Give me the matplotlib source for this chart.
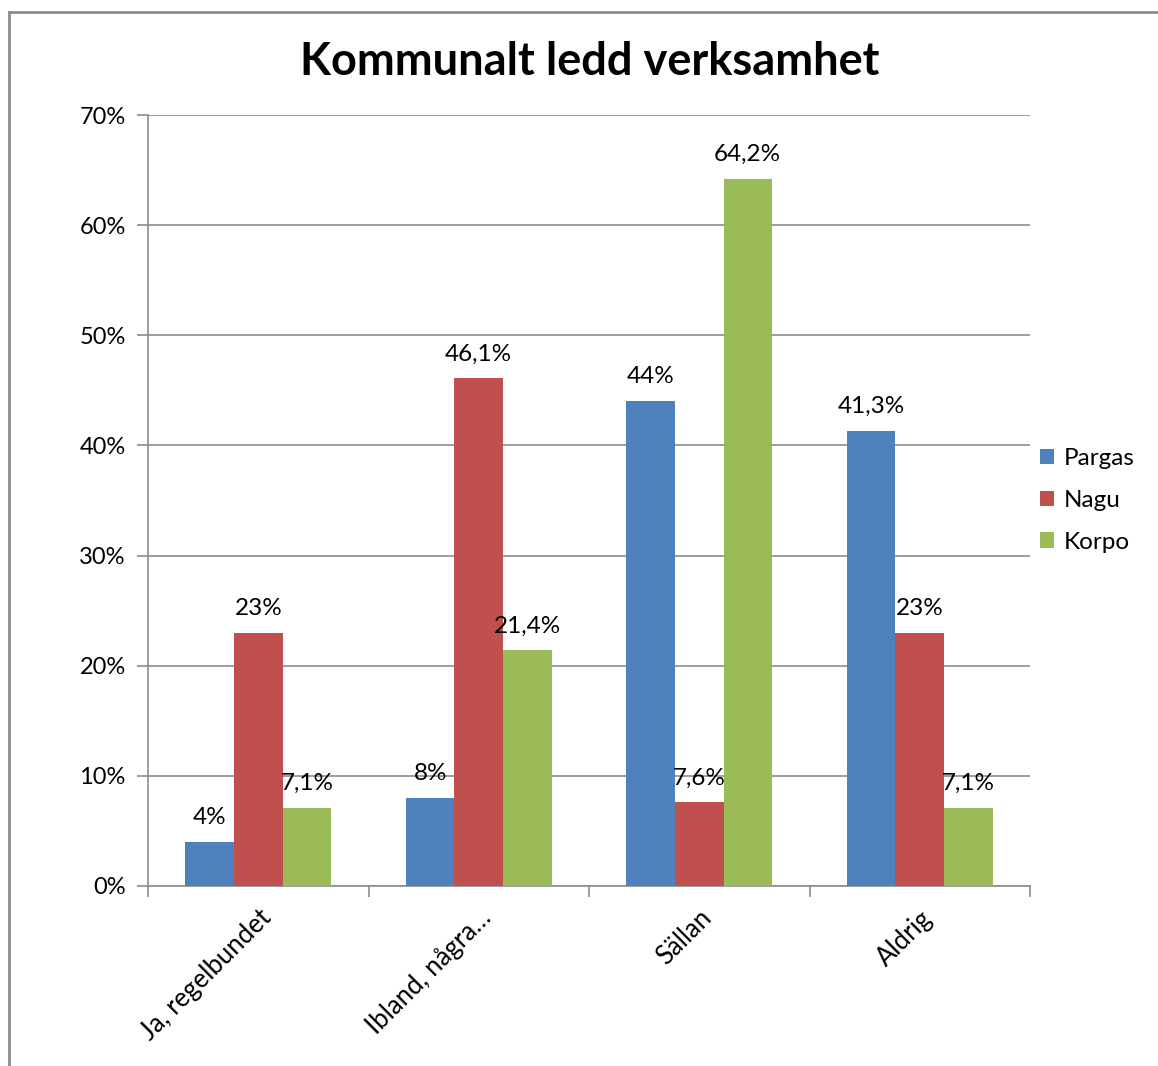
import numpy as np
import matplotlib.pyplot as plt
from matplotlib.lines import Line2D

categories = ['Ja, regelbundet', 'Ibland, några…', 'Sällan', 'Aldrig']
series = ['Pargas', 'Nagu', 'Korpo']
pargas = [4.0, 8.0, 44.0, 41.3]
nagu = [23.0, 46.1, 7.6, 23.0]
korpo = [7.1, 21.4, 64.2, 7.1]
labels_pargas = ['4%', '8%', '44%', '41,3%']
labels_nagu = ['23%', '46,1%', '7,6%', '23%']
labels_korpo = ['7,1%', '21,4%', '64,2%', '7,1%']
yticks = [0, 10, 20, 30, 40, 50, 60, 70]

colors = ['#4F81BD', '#C0504D', '#9BBB59']
plt.rcParams['font.family'] = ['Lato', 'DejaVu Sans']

fig = plt.figure(figsize=(11.58, 10.66), dpi=100)
ax = fig.add_axes([148/1158, 1 - 886/1066, (1030 - 148)/1158, (886 - 115)/1066])

# outer chart frame (top and left edges visible)
fig.add_artist(Line2D([8.5/1158, 8.5/1158], [0, 1 - 12/1066], color='#8c8c8c', lw=2, transform=fig.transFigure))
fig.add_artist(Line2D([8.5/1158, 1], [1 - 12/1066, 1 - 12/1066], color='#8c8c8c', lw=2, transform=fig.transFigure))

x = np.arange(len(categories))
w = 0.22
data = [pargas, nagu, korpo]
labs = [labels_pargas, labels_nagu, labels_korpo]
for i, (vals, name, c, lb) in enumerate(zip(data, series, colors, labs)):
    bars = ax.bar(x + (i - 1) * w, vals, width=w, color=c, label=name, zorder=3)
    for b, v, t in zip(bars, vals, lb):
        ax.annotate(t, (b.get_x() + b.get_width() / 2, v), xytext=(0, 10),
                    textcoords='offset points', ha='center', va='bottom', fontsize=17.5)

ax.set_xlim(-0.5, 3.5)
ax.set_ylim(0, 70)
ax.set_yticks(yticks)
ax.set_yticklabels([f'{t}%' for t in yticks], fontsize=17)
ax.yaxis.grid(True, color='#8c8c8c', lw=1.2, zorder=0)
ax.set_axisbelow(True)
ax.set_xticks(np.arange(-0.5, 4, 1))
ax.set_xticklabels([])
ax.set_xticks(x, minor=True)
ax.set_xticklabels(categories, minor=True, rotation=45, ha='right', rotation_mode='anchor', fontsize=18.5)
ax.tick_params(axis='x', which='minor', length=0, pad=14)
ax.tick_params(axis='x', which='major', length=8, color='#8c8c8c', width=1.2)
ax.tick_params(axis='y', length=8, color='#8c8c8c', width=1.2, pad=8)
for s in ['top', 'right']:
    ax.spines[s].set_visible(False)
for s in ['left', 'bottom']:
    ax.spines[s].set_color('#8c8c8c')
    ax.spines[s].set_linewidth(1.2)

ax.legend(loc='center left', bbox_to_anchor=(1.0, 0.5), frameon=False, fontsize=17.5,
          handlelength=0.6, handleheight=0.6, handletextpad=0.4, labelspacing=0.85, borderaxespad=0.0)
fig.text(590/1158, 1 - 62/1066, 'Kommunalt ledd verksamhet', ha='center', va='center',
         fontsize=32.5, fontweight='bold')

fig.savefig('out.png', dpi=100)
